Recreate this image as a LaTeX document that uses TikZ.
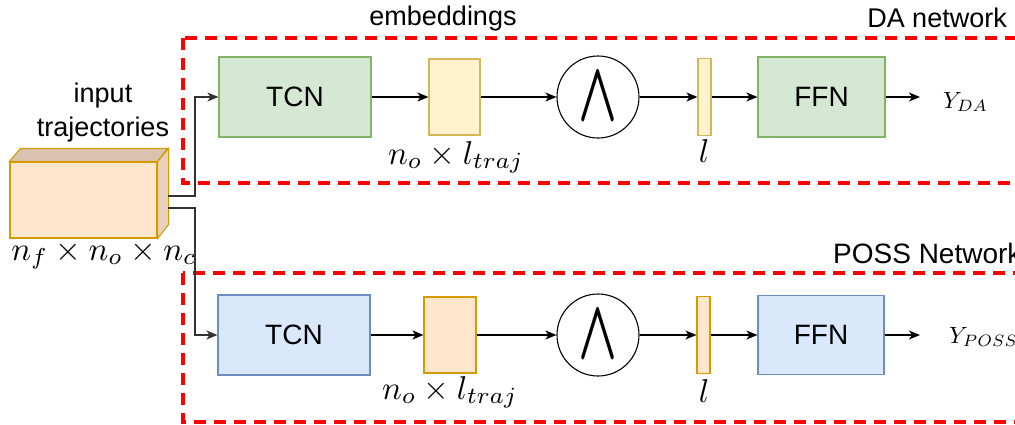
\documentclass[tikz,border=0pt]{standalone}
\usepackage{graphicx}
\usepackage{fontspec}
\setmainfont{Liberation Sans}
\usetikzlibrary{arrows.meta,calc}
\definecolor{gfill}{HTML}{D5E8D4}\definecolor{gline}{HTML}{82B366}
\definecolor{bfill}{HTML}{DAE8FC}\definecolor{bline}{HTML}{6C8EBF}
\definecolor{yfill}{HTML}{FFF2CC}\definecolor{yline}{HTML}{D6B656}
\definecolor{ofill}{HTML}{FFE6CC}\definecolor{oline}{HTML}{D79B00}
\definecolor{otop}{HTML}{D9C3AF}\definecolor{oside}{HTML}{E8D2BE}
\definecolor{conn}{HTML}{333333}
\definecolor{dred}{HTML}{FF0000}
\newcommand{\mathlbl}[1]{\scalebox{3.3}{$#1$}}
\newcommand{\outlbl}[1]{\scalebox{2.35}{$#1$}}
\newcommand{\andsym}{\resizebox{39pt}{47pt}{\boldmath$\wedge$}}
\begin{document}
\begin{tikzpicture}[x=1pt,y=-1pt,
  lbl/.style={font=\fontsize{27}{34}\selectfont, inner sep=0pt},
  mathl/.style={inner sep=0pt},
  blk/.style={font=\fontsize{28}{34}\selectfont, line width=1.1pt, inner sep=0pt},
  gblk/.style={blk, fill=gfill, draw=gline},
  bblk/.style={blk, fill=bfill, draw=bline},
  yblk/.style={blk, fill=yfill, draw=yline},
  oblk/.style={blk, fill=ofill, draw=oline},
  andnode/.style={draw, circle, line width=1.1pt, minimum size=82pt, inner sep=0pt},
  arr/.style={-{Stealth[length=11pt,width=9pt,inset=3pt]}, line width=1.2pt},
  redbox/.style={draw=dred, line width=4pt, dash pattern=on 12pt off 8pt},
]
\useasboundingbox (0,0) rectangle (1015,424);
\clip (0,0) rectangle (1015,424);

% dashed frames
\draw[redbox] (183,38) rectangle (1045,183);
\draw[redbox] (183,273) rectangle (1045,422);

% frame labels
\node[lbl, anchor=base] (emb) at (443,25) {embeddings};
\node[lbl, anchor=base east] (dalbl) at (1007,27) {DA network};
\node[lbl, anchor=base west, font=\fontsize{28}{34}\selectfont] (posslbl) at (833,263) {POSS Network};

% input cube
\node[draw=oline, fill=ofill, line width=1.1pt, minimum width=147pt, minimum height=76pt, inner sep=0pt] (cube) at (83.5,200) {};
\draw[draw=oline, fill=otop, line width=1.1pt] (cube.north west) -- ++(11,-13) -- ++(147,0) -- (cube.north east) -- cycle;
\draw[draw=oline, fill=oside, line width=1.1pt] (cube.north east) -- ++(11,-13) -- ++(0,76) -- (cube.south east) -- cycle;
\node[lbl, align=center] (inp) at (103,113) {input\\trajectories};
\node[mathl, anchor=base] (cubelbl) at (104,260) {\mathlbl{n_f\times n_o\times n_c}};

% DA row
\node[gblk, minimum width=152pt, minimum height=80pt] (tcn1) at (295,97) {TCN};
\node[yblk, minimum width=51pt, minimum height=76pt] (emb1) at (454.5,97) {};
\node[andnode] (and1) at (598,97) {\andsym};
\node[yblk, minimum width=13pt, minimum height=77pt] (bar1) at (704.5,97) {};
\node[gblk, minimum width=127pt, minimum height=80pt] (ffn1) at (821.5,97) {FFN};
\coordinate (out1) at (920,97);
\node[mathl, anchor=base west] (y1) at (943,108) {\outlbl{Y_{DA}}};
\node[mathl, anchor=base] (emb1lbl) at (456,164) {\mathlbl{n_o\times l_{traj}}};
\node[mathl, anchor=base] (bar1lbl) at (704,162) {\mathlbl{l}};

% POSS row
\node[bblk, minimum width=152pt, minimum height=80pt] (tcn2) at (294,335) {TCN};
\node[oblk, minimum width=52pt, minimum height=76pt] (emb2) at (450,335) {};
\node[andnode] (and2) at (598,335) {\andsym};
\node[oblk, minimum width=13pt, minimum height=77pt] (bar2) at (703.5,335) {};
\node[bblk, minimum width=126pt, minimum height=79pt] (ffn2) at (821,335) {FFN};
\coordinate (out2) at (920,335);
\node[mathl, anchor=base west] (y2) at (949,343) {\outlbl{Y_{POSS}}};
\node[mathl, anchor=base] (emb2lbl) at (450,399) {\mathlbl{n_o\times l_{traj}}};
\node[mathl, anchor=base] (bar2lbl) at (704,402) {\mathlbl{l}};

% connectors
\coordinate (c1) at (168,196);
\coordinate (c2) at (168,208);
\draw[arr, conn] (c1) -- ++(27,0) |- (tcn1.west);
\draw[arr, conn] (c2) -- ++(27,0) |- (tcn2.west);

\draw[arr] (tcn1) -- (emb1);
\draw[arr] (emb1) -- (and1);
\draw[arr] (and1) -- (bar1);
\draw[arr] (bar1) -- (ffn1);
\draw[arr] (ffn1) -- (out1);

\draw[arr] (tcn2) -- (emb2);
\draw[arr] (emb2) -- (and2);
\draw[arr] (and2) -- (bar2);
\draw[arr] (bar2) -- (ffn2);
\draw[arr] (ffn2) -- (out2);
\end{tikzpicture}
\end{document}
